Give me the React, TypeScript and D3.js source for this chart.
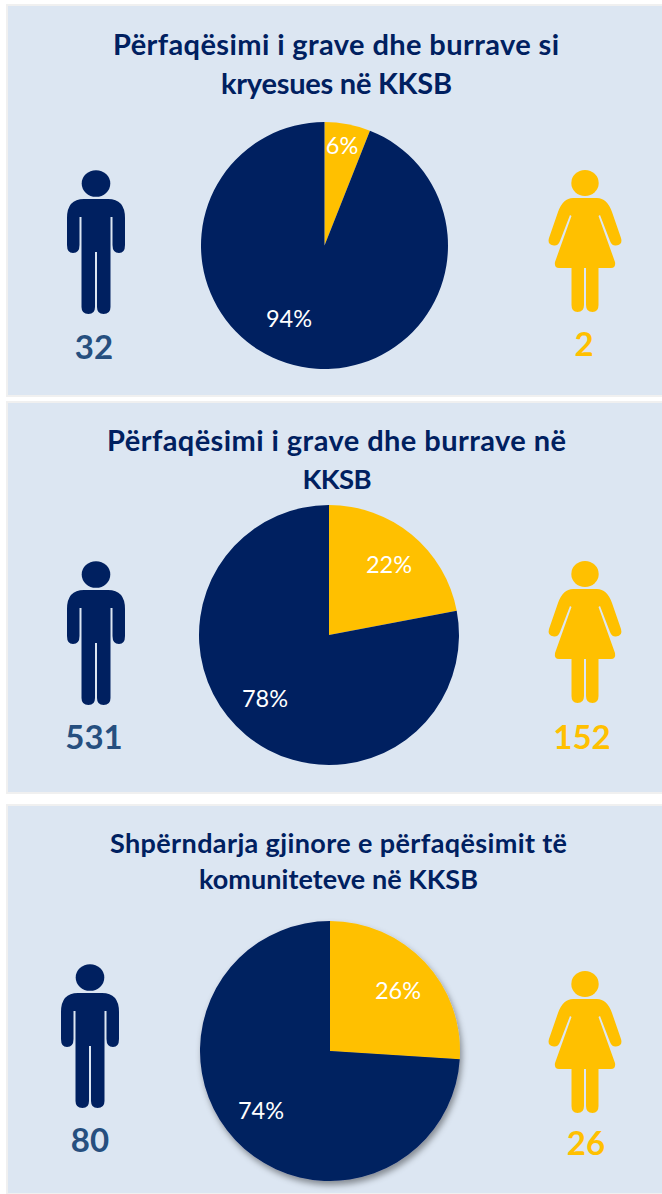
import React, { useEffect, useRef } from "react";
import * as d3 from "d3";

const titles = [
  ["Përfaqësimi i grave dhe burrave si", "kryesues në KKSB"],
  ["Përfaqësimi i grave dhe burrave në", "KKSB"],
  ["Shpërndarja gjinore e përfaqësimit të", "komuniteteve në KKSB"],
];
const womenPct = [6, 22, 26];
const menPct = [94, 78, 74];
const menCount = [32, 531, 80];
const womenCount = [2, 152, 26];

// layout of each block
const panels = [
  { y: 5, h: 391, cx: 324.5, cy: 245.5, r: 123.5, titleX: [336, 336.5], titleY: [55, 94], titleW: [446, 231], titleSize: [29, 29], manX: 96, manY: 170, womanY: 170, manNumY: 359, womanNumY: 356, manNumX: 94, womanNumX: 584, manLabel: [289, 327], womanLabel: [342, 154], shadow: false },
  { y: 402, h: 391, cx: 329, cy: 635, r: 130, titleX: [336.5, 337], titleY: [451, 489], titleW: [459, 69], titleSize: [29, 27.5], manX: 96, manY: 561, womanY: 561, manNumY: 749, womanNumY: 749, manNumX: 94, womanNumX: 582, manLabel: [265, 707], womanLabel: [389, 573], shadow: false },
  { y: 805, h: 389, cx: 330, cy: 1051, r: 130, titleX: [338.5, 338.5], titleY: [853, 889], titleW: [457, 279], titleSize: [27, 27], manX: 90, manY: 964, womanY: 971, manNumY: 1152, womanNumY: 1155, manNumX: 90, womanNumX: 586, manLabel: [261, 1119], womanLabel: [398, 999], shadow: true },
];

const navy = "#002060";
const yellow = "#FFC000";
const numberBlue = "#264F7F";
const font = "Lato, Carlito, 'Open Sans', sans-serif";

const manBody =
  "M-12,29 H12 Q29,29 29,48 V75 Q29,83 23,83 Q16.5,83 16.5,75 V47 H14.5 V137 Q14.5,144 7.5,144 Q1,144 1,137 V82 H-1 V137 Q-1,144 -7.5,144 Q-14.5,144 -14.5,137 V47 H-16.5 V75 Q-16.5,83 -23,83 Q-29,83 -29,75 V48 Q-29,29 -12,29 Z";
const womanBody =
  "M-12,28 H12 Q22,28 27,42 L36,68 Q38,75 31,75.5 Q27,76 25,71 L15,45 L13.5,46 L30,92 Q31,98 26,98 H13.5 V135 Q13.5,142 7.5,142 Q1,142 1,135 V98 H-1 V135 Q-1,142 -7.5,142 Q-13.5,142 -13.5,135 V98 H-26 Q-31,98 -30,92 L-13.5,46 L-15,45 L-25,71 Q-27,76 -31,75.5 Q-38,75 -36,68 L-27,42 Q-22,28 -12,28 Z";

export default function App() {
  const ref = useRef<SVGSVGElement | null>(null);

  useEffect(() => {
    const svg = d3.select(ref.current);
    svg.selectAll("*").remove();

    const defs = svg.append("defs");
    const filter = defs
      .append("filter")
      .attr("id", "pie-shadow")
      .attr("x", "-20%")
      .attr("y", "-20%")
      .attr("width", "140%")
      .attr("height", "140%");
    filter
      .append("feDropShadow")
      .attr("dx", 2)
      .attr("dy", 4)
      .attr("stdDeviation", 3)
      .attr("flood-color", "#000")
      .attr("flood-opacity", 0.4);

    svg.append("rect").attr("width", 662).attr("height", 1194).attr("fill", "#fff");

    const pie = d3
      .pie<{ key: string; value: number }>()
      .sort(null)
      .value((d) => d.value);

    panels.forEach((p, i) => {
      const g = svg.append("g");

      g.append("rect")
        .attr("x", 7)
        .attr("y", p.y)
        .attr("width", 662)
        .attr("height", p.h)
        .attr("fill", "#DCE6F2")
        .attr("stroke", "#F0F0F0")
        .attr("stroke-width", 2);

      // title, stretched to the measured line width because Calibri is not available
      titles[i].forEach((line, k) => {
        g.append("text")
          .attr("x", p.titleX[k])
          .attr("y", p.titleY[k])
          .attr("text-anchor", "middle")
          .attr("font-family", font)
          .attr("font-weight", 700)
          .attr("font-size", p.titleSize[k])
          .attr("textLength", p.titleW[k])
          .attr("lengthAdjust", "spacing")
          .attr("fill", navy)
          .text(line);
      });

      // pie, women first from 12 o'clock
      const arc = d3
        .arc<d3.PieArcDatum<{ key: string; value: number }>>()
        .innerRadius(0)
        .outerRadius(p.r);
      const slices = pie([
        { key: "women", value: womenPct[i] },
        { key: "men", value: menPct[i] },
      ]);
      const pieG = g
        .append("g")
        .attr("transform", `translate(${p.cx},${p.cy})`)
        .attr("filter", p.shadow ? "url(#pie-shadow)" : null);
      pieG
        .selectAll("path")
        .data(slices)
        .enter()
        .append("path")
        .attr("d", arc)
        .attr("fill", (d) => (d.data.key === "women" ? yellow : navy));

      // percent labels
      [
        { pos: p.womanLabel, v: womenPct[i] },
        { pos: p.manLabel, v: menPct[i] },
      ].forEach((l) => {
        g.append("text")
          .attr("x", l.pos[0])
          .attr("y", l.pos[1])
          .attr("text-anchor", "middle")
          .attr("font-family", font)
          .attr("font-size", 23.5)
          .attr("fill", "#fff")
          .text(`${l.v}%`);
      });

      // man icon
      const man = g.append("g").attr("transform", `translate(${p.manX},${p.manY})`).attr("fill", navy);
      man.append("ellipse").attr("cx", 0).attr("cy", 13.5).attr("rx", 14.3).attr("ry", 13.3);
      man.append("path").attr("d", manBody);

      // woman icon
      const woman = g.append("g").attr("transform", `translate(585,${p.womanY})`).attr("fill", yellow);
      woman.append("ellipse").attr("cx", 0).attr("cy", 13).attr("rx", 13.7).attr("ry", 13);
      woman.append("path").attr("d", womanBody);

      // counts
      g.append("text")
        .attr("x", p.manNumX)
        .attr("y", p.manNumY)
        .attr("text-anchor", "middle")
        .attr("font-family", font)
        .attr("font-weight", 700)
        .attr("font-size", 33)
        .attr("fill", numberBlue)
        .text(menCount[i]);
      g.append("text")
        .attr("x", p.womanNumX)
        .attr("y", p.womanNumY)
        .attr("text-anchor", "middle")
        .attr("font-family", font)
        .attr("font-weight", 700)
        .attr("font-size", 33)
        .attr("fill", yellow)
        .text(womenCount[i]);
    });
  }, []);

  return (
    <svg
      ref={ref}
      width={662}
      height={1194}
      style={{ position: "absolute", left: 0, top: 0, display: "block" }}
    />
  );
}
